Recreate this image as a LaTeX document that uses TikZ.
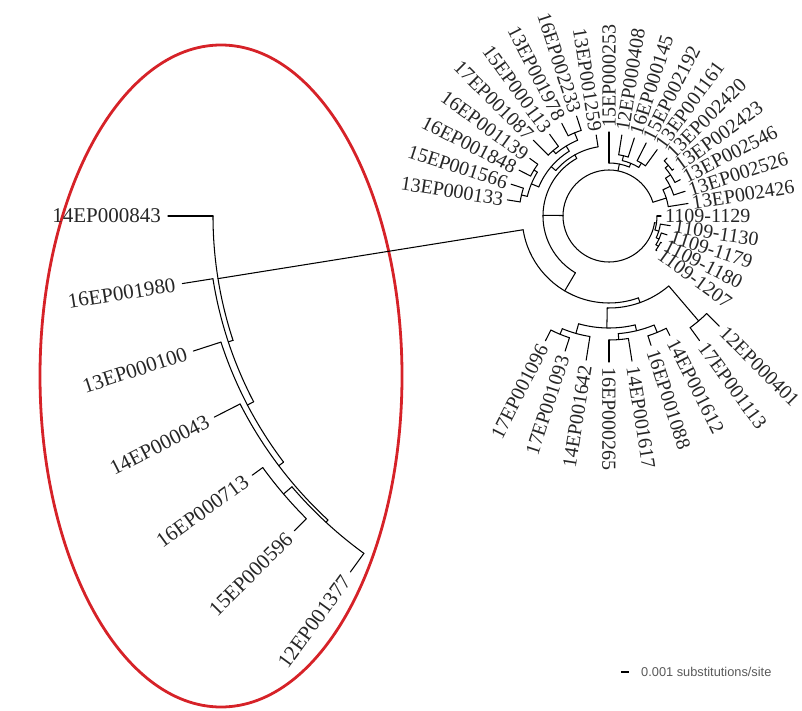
\documentclass[tikz,border=0pt]{standalone}
\usepackage{fontspec}
\setmainfont{Liberation Serif}
\newfontfamily\scalebarfont{Liberation Sans}
\definecolor{ringred}{RGB}{214,34,40}
\tikzset{
  branch/.style={draw=black, line width=1.05pt, line cap=round},
  leaflab/.style={font=\fontsize{20}{24}\selectfont, text=black!85, inner sep=0pt},
  insetlab/.style={font=\fontsize{21}{25}\selectfont, text=black!85, inner sep=0pt},
  ring/.style={draw=ringred, line width=2.8pt},
}
% internal node: name, angle, parent radius, radius, arc from, arc to
\newcommand\phyNode[6]{%
  \coordinate (#1-in) at (#2:#3pt);
  \coordinate (#1) at (#2:#4pt);
  \coordinate (#1-from) at (#5:#4pt);
  \draw[branch] (#1-in) -- (#1);
  \draw[branch] (#1-from) arc[start angle=#5, end angle=#6, radius=#4pt];
}
% leaf: [label style] name, angle, node radius, tip radius, gap, text
\newcommand\phyLeaf[7][leaflab]{%
  \coordinate (#2-in) at (#3:#4pt);
  \coordinate (#2) at (#3:#5pt);
  \draw[branch] (#2-in) -- (#2);
  \pgfmathsetmacro\phyLabR{#5+#6}
  \pgfmathsetmacro\phyCos{cos(#3)}
  \ifdim\phyCos pt>-0.01pt
    \node[#1, anchor=west, rotate=#3] (#2-lab) at (#3:\phyLabR pt) {#7};
  \else
    \pgfmathsetmacro\phyRot{#3-180}
    \node[#1, anchor=east, rotate=\phyRot] (#2-lab) at (#3:\phyLabR pt) {#7};
  \fi
}
\begin{document}
\begin{tikzpicture}[x=1pt,y=1pt]
\useasboundingbox (0,0) rectangle (802,-711);

% highlight ring around the enlarged clade
\draw[ring] (221,-376) ellipse[x radius=181pt, y radius=331pt];

\begin{scope}[shift={(609,-216)}]
  \coordinate (C) at (0,0);
  % root arc
  \coordinate (Z-from) at (17.4:46pt);
  \draw[branch] (Z-from) arc[start angle=17.4, end angle=351.6, radius=46pt];

  % internal nodes
  \foreach \n/\a/\p/\r/\f/\t in {
      W1/17.4/46/60/9/25.9, W2/25.9/60/68/18/33.75, W3/33.75/68/74/27/40.5, W4/40.5/74/78/36/45,
      TR/78.75/46/53/67.5/90, TR1/67.5/53/57/58.5/76.5, TR2/76.5/57/62/72/81, TR3/58.5/57/62/54/63,
      V/179.4/46/66/119.25/239.4, TL/119.25/66/70/99/139.5, TL1/139.5/70/76/121.5/157.5,
      TLa/157.5/76/84/148.5/166.5, TLa1/166.5/84/90/162/171, TLa2/148.5/84/88/144/153,
      TLb/121.5/76/82/112.5/130.5, TLb1/130.5/82/86/126/135, TLb2/112.5/82/90/108/117,
      P/239.4/66/87/189.1/289.7, Q/289.7/87/92/268.9/310.5, A/310.5/92/138/306/315,
      B/268.9/92/112/254.25/283.5, B1/254.25/112/122/247.5/261, C1/247.5/122/128/243/252,
      B2/283.5/112/118/274.5/292.5, D/274.5/118/124/270/279, E/292.5/118/126/288/297,
      Y/351.6/46/48/343.1/360, Y2/343.1/48/52/335.25/351, Y3/335.25/52/55/328.5/342, Y4/328.5/55/58/324/333,
      N1/189.1/87/396/180/198.3, N2/198.3/396/401/189/207.6, N3/207.6/401/408/198/217.1,
      N4/217.1/408/414/207/227.25, N5/227.25/414/417/220.5/234, N6/220.5/417/428/216/225}
    {\phyNode{\n}{\a}{\p}{\r}{\f}{\t}}

  % leaves of the circular part
  \foreach \n/\a/\r/\t/\s in {
      ul1/171/90/103/13EP000133, ul2/162/90/103/15EP001566, ul3/153/88/101/16EP001848,
      ul4/144/88/98/16EP001139, ul5/135/86/107/17EP001087, ul6/126/86/101/15EP000113,
      ul7/117/90/104/13EP001978, ul8/108/90/105/16EP002233, ul9/99/70/82/13EP001259,
      ur1/90/53/84/15EP000253, ur2/81/62/82/12EP000408, ur3/72/62/82/16EP000145,
      ur4/63/62/82/15EP002192, ur5/54/62/82/13EP001161, ur6/45/78/82/13EP002420,
      ur7/36/78/80/13EP002423, ur8/27/74/80/13EP002546, ur9/18/68/80/13EP002526,
      ur10/9/60/80/13EP002426,
      y1/0/48/52/1109-1129, y2/351/52/62/1109-1130, y3/342/55/61/1109-1179,
      y4/333/58/59/1109-1180, y5/324/58/59/1109-1207}
    {\phyLeaf{\n}{\a}{\r}{\t}{4}{\s}}
  \foreach \n/\a/\r/\t/\s in {
      lo1/315/138/156/12EP000401, lo2/306/138/154/17EP001113, lo3/297/126/134/14EP001612,
      lo4/288/126/136/16EP001088, lo5/279/124/147/14EP001617, lo6/270/124/146/16EP000265,
      lo7/261/122/146/14EP001642, lo8/252/128/142/17EP001093, lo9/243/128/140/17EP001096}
    {\phyLeaf{\n}{\a}{\r}{\t}{5}{\s}}

  % leaves of the enlarged clade
  \foreach \n/\a/\r/\t/\s in {
      L1/180/396/441/14EP000843, L2/189/401/432/16EP001980, L3/198/408/437/13EP000100,
      L4/207/414/443/14EP000043, L5/216/428/441/16EP000713, L6/225/428/445/15EP000596,
      L7/234/417/440/12EP001377}
    {\phyLeaf[insetlab]{\n}{\a}{\r}{\t}{7}{\s}}
\end{scope}

% scale bar
\coordinate (sb1) at (621,-672);
\coordinate (sb2) at (629,-672);
\draw[line width=1.1pt] (sb1) -- (sb2);
\node[anchor=west, inner sep=0pt, text=black!65, font=\scalebarfont\fontsize{12.8}{15}\selectfont] (sblab) at (641,-672) {0.001 substitutions/site};
\end{tikzpicture}
\end{document}
